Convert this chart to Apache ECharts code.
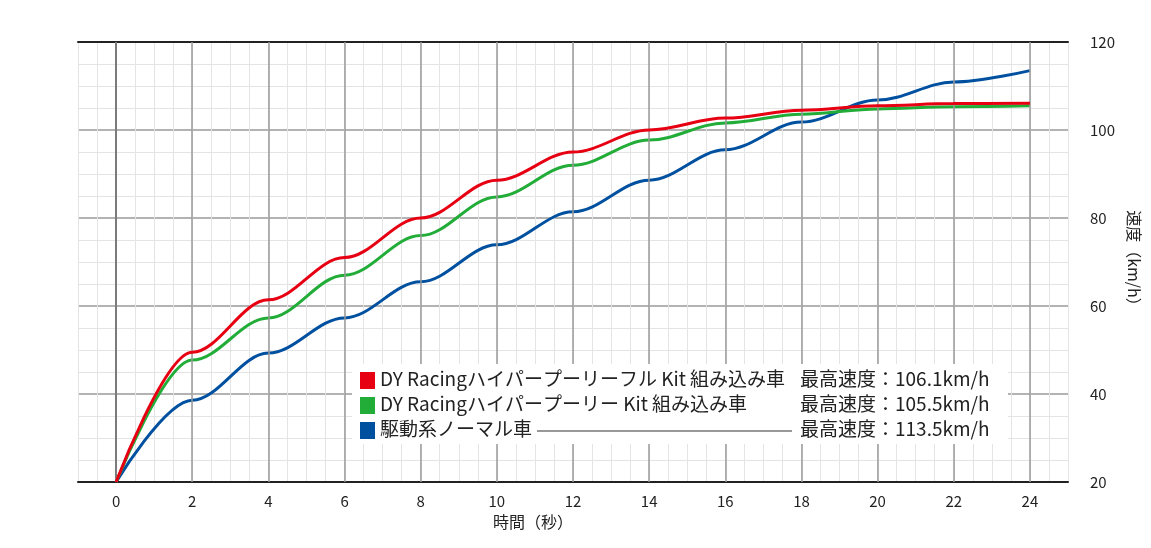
<!DOCTYPE html>
<html>
<head>
<meta charset="utf-8">
<script src="https://cdn.jsdelivr.net/npm/echarts@6/dist/echarts.min.js"></script>
<style>html,body{margin:0;padding:0;background:#fff}#chart{width:1151px;height:548px}</style>
</head>
<body>
<div id="chart"></div>
<script>
// 時間（秒）
var times = [0, 2, 4, 6, 8, 10, 12, 14, 16, 18, 20, 22, 24];
var fullKit = [20, 49.5, 61.4, 71, 80, 88.6, 95, 100, 102.7, 104.5, 105.5, 106, 106.1];
var kit = [20, 47.7, 57.3, 67, 76, 84.8, 92, 97.7, 101.6, 103.6, 104.8, 105.3, 105.5];
var normal = [20, 38.6, 49.3, 57.3, 65.5, 73.9, 81.4, 88.6, 95.5, 101.8, 106.8, 110.9, 113.5];
var xTicks = [0, 2, 4, 6, 8, 10, 12, 14, 16, 18, 20, 22, 24];
var names = ['DY Racingハイパープーリーフル Kit 組み込み車', 'DY Racingハイパープーリー Kit 組み込み車', '駆動系ノーマル車'];
var maxSpeeds = ['最高速度：106.1km/h', '最高速度：105.5km/h', '最高速度：113.5km/h'];
var colors = ['#e60012', '#22ac38', '#0050a0'];

function pairs(ys) {
	return times.map(function (t, i) { return [t, ys[i]]; });
}

var font = '"Noto Sans CJK JP", "Noto Sans", sans-serif';
var myChart = echarts.init(document.getElementById('chart'));

var legendEls = [{ type: 'rect', z: 100, shape: { x: 0, y: 0, width: 656, height: 80 }, style: { fill: '#fff' } }];
names.forEach(function (n, i) {
	var y = 5 + i * 25;
	legendEls.push({ type: 'rect', z: 101, shape: { x: 8, y: y + 3, width: 15, height: 17 }, style: { fill: colors[i] } });
	legendEls.push({ type: 'text', z: 101, x: 28, y: y, style: { text: n, font: '19px ' + font, fill: '#222' } });
	legendEls.push({ type: 'text', z: 101, x: 448, y: y, style: { text: maxSpeeds[i], font: '19px ' + font, fill: '#222' } });
});
legendEls.push({ type: 'line', z: 101, shape: { x1: 185, y1: 67, x2: 440, y2: 67 }, style: { stroke: '#333', lineWidth: 1 } });

var option = {
	animation: false,
	grid: { left: 78, right: 83, top: 42, bottom: 66 },
	xAxis: [{
		type: 'value', min: -1, max: 25, interval: 1,
		name: '時間（秒）', nameLocation: 'middle', nameGap: 30,
		nameTextStyle: { fontFamily: font, fontSize: 16, color: '#222', padding: [0, 80, 0, 0] },
		axisLine: { lineStyle: { color: '#222', width: 2 } },
		axisTick: { show: false },
		axisLabel: {
			fontFamily: font, fontSize: 15, color: '#222', margin: 12,
			formatter: function (v) { return xTicks.indexOf(v) >= 0 ? String(v) : ''; }
		},
		splitLine: { show: false }
	}, {
		type: 'value', min: -1, max: 25, interval: 0.5, position: 'top',
		axisLine: { show: true, lineStyle: { color: '#222', width: 2 } }, axisTick: { show: false }, axisLabel: { show: false },
		splitLine: { lineStyle: { color: '#e4e4e4', width: 1 } }
	}],
	yAxis: [{
		type: 'value', min: 20, max: 120, interval: 20, position: 'right',
		name: '速度（km/h）', nameLocation: 'middle', nameRotate: -90, nameGap: 40,
		nameTextStyle: { fontFamily: font, fontSize: 16, color: '#222' },
		axisLine: { show: false }, axisTick: { show: false },
		axisLabel: { fontFamily: font, fontSize: 15, color: '#222', margin: 22 },
		splitLine: { lineStyle: { color: '#9a9a9a', width: 1.5 } },
		minorTick: { show: false, splitNumber: 4 },
		minorSplitLine: { show: true, lineStyle: { color: '#e4e4e4', width: 1 } }
	}, {
		type: 'value', min: 20, max: 120, position: 'left',
		axisLine: { show: true, lineStyle: { color: '#222', width: 2 } },
		axisTick: { show: false }, axisLabel: { show: false }, splitLine: { show: false }
	}],
	series: [{
		type: 'line', data: [], silent: true, z: 1,
		markLine: {
			silent: true, symbol: 'none', label: { show: false },
			lineStyle: { color: '#9a9a9a', width: 1.5, type: 'solid' },
			data: xTicks.map(function (v) { return { xAxis: v }; })
		}
	}].concat([normal, kit, fullKit].map(function (d, i) {
		var c = [colors[2], colors[1], colors[0]][i];
		return {
			type: 'line', smooth: 0.35, smoothMonotone: 'x', showSymbol: false, z: 3 + i,
			data: pairs(d), lineStyle: { color: c, width: 3 }
		};
	})),
	graphic: [{ type: 'group', left: 352, top: 364, z: 100, children: legendEls }]
};

myChart.setOption(option);
</script>
</body>
</html>
